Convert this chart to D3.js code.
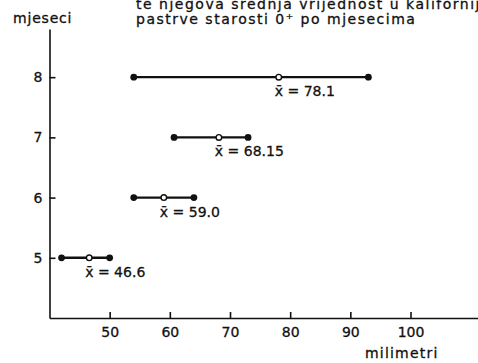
<!DOCTYPE html>
<html>
<head>
<meta charset="utf-8">
<script src="https://cdn.jsdelivr.net/npm/d3@7"></script>
<style>
  html, body { margin: 0; padding: 0; background: #fff; }
  svg text { font-family: "DejaVu Sans", sans-serif; fill: #111; stroke: #111; stroke-width: 0.3px; }
</style>
</head>
<body>
<div id="chart"></div>
<script>
// months (age) and length ranges in mm
const months = [5, 6, 7, 8];
const minLength = [42, 54, 60.7, 54];
const meanLength = [46.6, 59.0, 68.15, 78.1];
const maxLength = [50, 64, 73, 93];
const xTicks = [50, 60, 70, 80, 90, 100];
const yTicks = [5, 6, 7, 8];
const titleLines = [
  'te njegova srednja vrijednost u kalifornijskoj',
  'pastrve starosti 0\u207A po mjesecima'
];

const width = 478, height = 363;

const svg = d3.select('#chart').append('svg')
  .attr('width', width)
  .attr('height', height);

const x = d3.scaleLinear()
  .domain([40, 111.3])
  .range([49.5, 478.5]);

const y = d3.scaleLinear()
  .domain([4, 8.8])
  .range([318, 29]);

const data = months.map((m, i) => ({
  month: m, min: minLength[i], mean: meanLength[i], max: maxLength[i]
}));

function styleAxis(g) {
  g.select('.domain').attr('stroke', '#111').attr('stroke-width', 1.6);
  g.selectAll('.tick line').attr('stroke', '#111').attr('stroke-width', 1.6);
  g.selectAll('.tick text')
    .attr('font-size', 14)
    .attr('font-family', '"DejaVu Sans", sans-serif')
    .attr('fill', '#111');
}

// x axis, ticks pointing inward
svg.append('g')
  .attr('transform', `translate(0,${y(4)})`)
  .call(d3.axisBottom(x).tickValues(xTicks).tickSizeInner(-6).tickSizeOuter(0).tickPadding(9))
  .call(styleAxis);

// y axis
svg.append('g')
  .attr('transform', `translate(${x(40)},0)`)
  .call(d3.axisLeft(y).tickValues(yTicks).tickFormat(d3.format('d')).tickSizeInner(-6).tickSizeOuter(0).tickPadding(7))
  .call(styleAxis);

// range lines
const rows = svg.append('g').selectAll('g')
  .data(data)
  .join('g');

rows.append('line')
  .attr('x1', d => x(d.min))
  .attr('x2', d => x(d.max))
  .attr('y1', d => y(d.month))
  .attr('y2', d => y(d.month))
  .attr('stroke', '#111')
  .attr('stroke-width', 2.4);

rows.selectAll('circle.end')
  .data(d => [d.min, d.max].map(v => ({ v, month: d.month })))
  .join('circle')
  .attr('class', 'end')
  .attr('cx', d => x(d.v))
  .attr('cy', d => y(d.month))
  .attr('r', 3.4)
  .attr('fill', '#111');

rows.append('circle')
  .attr('cx', d => x(d.mean))
  .attr('cy', d => y(d.month))
  .attr('r', 2.8)
  .attr('fill', '#fff')
  .attr('stroke', '#111')
  .attr('stroke-width', 1.4);

rows.append('text')
  .attr('x', d => x(d.mean) - 4)
  .attr('y', d => y(d.month) + 19)
  .attr('font-size', 14)
  .text(d => 'x\u0304 = ' + d.mean.toFixed(d.mean === 68.15 ? 2 : 1));

// labels
svg.append('text')
  .attr('x', 13)
  .attr('y', 23)
  .attr('font-size', 14)
  .attr('letter-spacing', 0.8)
  .text('mjeseci');

svg.selectAll('text.title')
  .data(titleLines)
  .join('text')
  .attr('class', 'title')
  .attr('x', 136)
  .attr('y', (d, i) => 9 + i * 15)
  .attr('font-size', 14)
  .attr('letter-spacing', 1.5)
  .text(d => d);

svg.append('text')
  .attr('x', 365)
  .attr('y', 358)
  .attr('font-size', 14)
  .attr('letter-spacing', 1.2)
  .text('milimetri');
</script>
</body>
</html>
